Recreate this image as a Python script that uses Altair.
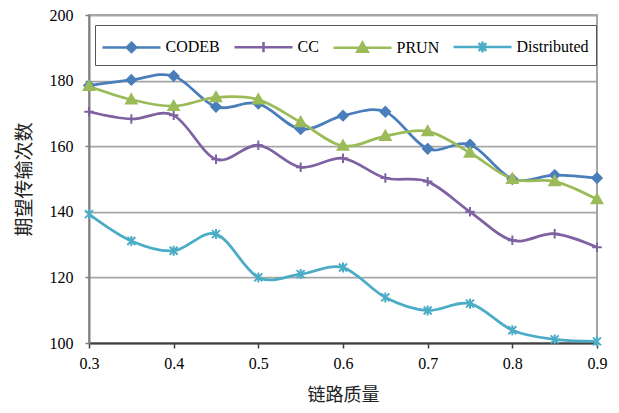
import altair as alt
import pandas as pd

quality = [0.3, 0.35, 0.4, 0.45, 0.5, 0.55, 0.6, 0.65, 0.7, 0.75, 0.8, 0.85, 0.9]
codeb = [178.5, 180.2, 181.4, 172.0, 173.0, 165.2, 169.3, 170.5, 159.2, 160.5, 150.0, 151.2, 150.3]
cc = [170.5, 168.3, 169.4, 156.0, 160.3, 153.6, 156.3, 150.3, 149.2, 140.0, 131.3, 133.3, 129.2]
prun = [178.3, 174.2, 172.2, 174.9, 174.2, 167.3, 160.1, 163.1, 164.5, 158.0, 150.0, 149.3, 143.8]
distributed = [139.3, 131.1, 128.1, 133.2, 120.0, 121.0, 123.0, 113.9, 109.9, 112.0, 103.9, 101.1, 100.5]

series_names = ["CODEB", "CC", "PRUN", "Distributed"]
series_values = [codeb, cc, prun, distributed]
colors = ["#4A7EBB", "#7E62A1", "#9BBB59", "#4BACC6"]
x_ticks = [0.3, 0.4, 0.5, 0.6, 0.7, 0.8, 0.9]
y_ticks = [100, 120, 140, 160, 180, 200]

# marker shapes for the plot (unit paths)
point_shapes = [
    "M0,-1L1,0L0,1L-1,0Z",
    "M-1,0H1M0,-1V1",
    "M0,-1L1,0.75L-1,0.75Z",
    "M-1,-1L1,1M-1,1L1,-1M0,-1.25V1.25",
]
point_sizes = [90, 90, 110, 64]

# legend symbols: line + marker
line_part = "M-1.115,0H3.346"
legend_paths = {
    "CODEB": line_part + "M1.115,-0.36L1.475,0L1.115,0.36L0.755,0Z",
    "CC": line_part + "M1.115,-0.4V0.4",
    "PRUN": line_part + "M1.115,-0.4L1.52,0.3L0.71,0.3Z",
    "Distributed": line_part + "M0.815,-0.3L1.415,0.3M0.815,0.3L1.415,-0.3M1.115,-0.42V0.42",
}
shape_expr = " : ".join(
    f"datum.value === '{k}' ? '{v}'" for k, v in list(legend_paths.items())[:-1]
) + f" : '{legend_paths['Distributed']}'"

rows = []
for name, vals in zip(series_names, series_values):
    for q, v in zip(quality, vals):
        rows.append({"q": q, "v": v, "series": name})
df = pd.DataFrame(rows)

serif = "Liberation Serif"
cjk = "Noto Sans CJK SC"

legend = alt.Legend(
    title=None,
    orient="none",
    legendX=6,
    legendY=10,
    direction="horizontal",
    columns=4,
    columnPadding=9,
    padding=7.5,
    strokeColor="#555555",
    fillColor="white",
    labelFont=serif,
    labelFontSize=16,
    labelColor="black",
    labelOffset=34,
    symbolSize=676,
    symbolStrokeWidth=2.5,
    symbolOpacity=1,
    symbolType={"expr": shape_expr},
    symbolFillColor={"expr": "scale('color', datum.value)"},
    symbolStrokeColor={"expr": "scale('color', datum.value)"},
)

color_scale = alt.Scale(domain=series_names, range=colors)

x_enc = alt.X(
    "q:Q",
    scale=alt.Scale(domain=[0.3, 0.9], nice=False, zero=False),
    axis=alt.Axis(
        values=x_ticks,
        format=".1f",
        title="链路质量",
        grid=False,
        domainColor="#404040",
        domainWidth=2,
        tickColor="#404040",
        tickSize=5,
        tickWidth=1.5,
        labelFont=serif,
        labelFontSize=16,
        labelColor="black",
        labelPadding=7,
        labelFlush=False,
        titleFont=cjk,
        titleFontSize=18,
        titleFontWeight="normal",
        titleColor="#222222",
        titlePadding=15,
    ),
)
y_enc = alt.Y(
    "v:Q",
    scale=alt.Scale(domain=[100, 200], nice=False, zero=False),
    axis=alt.Axis(
        values=y_ticks,
        title="期望传输次数",
        grid=True,
        gridColor="#A6A6A6",
        gridWidth=1.75,
        domainColor="#808080",
        domainWidth=2,
        tickColor="#808080",
        tickSize=4,
        tickWidth=1.5,
        labelFont=serif,
        labelFontSize=16,
        labelColor="black",
        labelPadding=12,
        labelFlush=False,
        titleFont=cjk,
        titleFontSize=19,
        titleFontWeight="normal",
        titleColor="#222222",
        titlePadding=15,
    ),
)

base = alt.Chart(df)

lines = base.mark_line(interpolate="cardinal", strokeWidth=2.75).encode(
    x=x_enc,
    y=y_enc,
    color=alt.Color("series:N", scale=color_scale, sort=series_names, legend=legend),
    order=alt.Order("q:Q"),
)

point_layers = []
for name, shp, sz in zip(series_names, point_shapes, point_sizes):
    point_layers.append(
        base.transform_filter(alt.datum.series == name)
        .mark_point(
            filled=True,
            opacity=1,
            strokeWidth=2,
            shape=shp,
            size=sz,
            stroke={"expr": "scale('color', datum.series)"},
        )
        .encode(
            x=x_enc,
            y=y_enc,
            color=alt.Color("series:N", scale=color_scale, sort=series_names, legend=None),
        )
    )

chart = (
    alt.layer(lines, *point_layers)
    .properties(
        width=508,
        height=328,
        autosize=alt.AutoSizeParams(type="none"),
        padding={"left": 81, "top": 7, "right": 14, "bottom": 62},
        background="white",
    )
    .configure_view(stroke="#A6A6A6", strokeWidth=2)
    .configure_axis(labelFont=serif, titleFont=cjk)
)

chart.save("out.html", embed_options={"renderer": "svg", "actions": False})
